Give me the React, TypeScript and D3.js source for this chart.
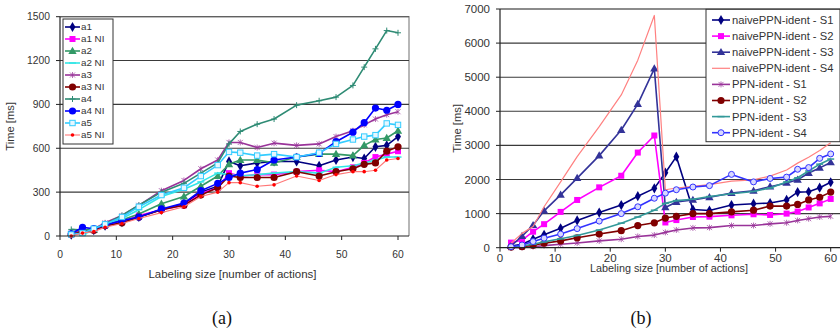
import * as d3 from "d3";

// x positions shared by every series (number of actions)
const SIZES = [2, 4, 6, 8, 11, 14, 18, 22, 25, 28, 30, 32, 35, 38, 42, 46, 49, 52, 54, 56, 58, 60];

// ---- panel (a) ----
const A1 = [10, 40, 40, 70, 95, 130, 180, 220, 300, 340, 510, 480, 500, 510, 510, 480, 520, 540, 530, 610, 620, 680];
const A1_NI = [10, 30, 40, 70, 95, 140, 180, 210, 290, 330, 430, 410, 420, 420, 440, 450, 440, 470, 500, 540, 560, 580];
const A2 = [20, 30, 40, 80, 110, 150, 220, 270, 340, 410, 490, 520, 520, 500, 540, 560, 560, 550, 620, 660, 670, 720];
const A2_NI = [30, 10, 40, 80, 120, 180, 270, 320, 370, 430, 420, 410, 420, 430, 440, 430, 470, 480, 500, 520, 540, 540];
const A3 = [20, 40, 50, 90, 140, 210, 310, 380, 460, 520, 640, 640, 605, 635, 620, 630, 680, 720, 760, 800, 830, 850];
const A3_NI = [10, 30, 40, 70, 90, 130, 180, 210, 280, 330, 410, 400, 400, 400, 440, 410, 440, 460, 490, 500, 580, 610];
const A4 = [45, 40, 50, 80, 140, 210, 300, 360, 430, 500, 630, 715, 765, 800, 895, 925, 950, 1030, 1155, 1280, 1405, 1390];
const A4_NI = [15, 60, 50, 75, 105, 130, 185, 225, 310, 360, 400, 430, 455, 520, 540, 565, 645, 710, 775, 875, 860, 900];
const A5 = [10, 20, 50, 80, 130, 200, 280, 330, 410, 485, 575, 570, 550, 560, 540, 570, 630, 660, 680, 690, 770, 760];
const A5_NI = [0, 20, 30, 60, 85, 120, 160, 200, 270, 300, 365, 365, 340, 350, 410, 380, 420, 440, 440, 450, 520, 530];

// ---- panel (b) ----
const NAIVE_S1 = [50, 100, 250, 380, 570, 800, 1030, 1250, 1510, 1740, 2200, 2670, 1120, 1090, 1250, 1290, 1310, 1400, 1630, 1640, 1760, 1920];
const NAIVE_S2 = [150, 220, 470, 690, 1050, 1400, 1770, 2110, 2790, 3290, 740, 810, 900, 910, 950, 980, 960, 1000, 1060, 1180, 1300, 1430];
const NAIVE_S3 = [50, 340, 660, 1080, 1550, 2040, 2700, 3450, 4210, 5250, 1180, 1340, 1400, 1480, 1600, 1670, 1790, 1900, 1990, 2190, 2340, 2500];
const NAIVE_S4 = [130, 420, 620, 1200, 1930, 2670, 3550, 4480, 5500, 6810, 1700, 1750, 1800, 1850, 1950, 1990, 2100, 2280, 2480, 2650, 2850, 3080];
const PPN_S1 = [0, 10, 30, 60, 100, 140, 200, 250, 330, 370, 450, 520, 580, 590, 650, 650, 700, 730, 800, 850, 900, 920];
const PPN_S2 = [20, 30, 70, 130, 200, 290, 400, 500, 650, 730, 870, 920, 1000, 1000, 1050, 1100, 1220, 1220, 1270, 1400, 1480, 1630];
const PPN_S3 = [20, 50, 100, 170, 260, 360, 520, 720, 900, 1100, 1300, 1380, 1420, 1500, 1580, 1650, 1750, 1930, 2050, 2250, 2450, 2600];
const PPN_S4 = [30, 80, 180, 280, 400, 560, 780, 1000, 1200, 1450, 1600, 1700, 1780, 1820, 2150, 1930, 2030, 2070, 2300, 2350, 2620, 2750];

const X_TICKS = [0, 10, 20, 30, 40, 50, 60];
const Y_TICKS_A = [0, 300, 600, 900, 1200, 1500];
const Y_TICKS_B = [0, 1000, 2000, 3000, 4000, 5000, 6000, 7000];

type Marker = "diamond" | "square" | "hsquare" | "triangle" | "circle" | "hcircle" | "star" | "plus" | "dash" | "dot" | "none";

interface Series {
  name: string;
  values: number[];
  color: string;
  marker: Marker;
  lw?: number;
  mcolor?: string;
}

const SERIES_A: Series[] = [
  { name: "a1", values: A1, color: "#000080", marker: "diamond" },
  { name: "a1 NI", values: A1_NI, color: "#ff00ff", marker: "square" },
  { name: "a2", values: A2, color: "#339966", marker: "triangle" },
  { name: "a2 NI", values: A2_NI, color: "#33e6e6", marker: "dash" },
  { name: "a3", values: A3, color: "#993399", marker: "star" },
  { name: "a3 NI", values: A3_NI, color: "#800000", marker: "circle" },
  { name: "a4", values: A4, color: "#2e8b74", marker: "plus" },
  { name: "a4 NI", values: A4_NI, color: "#0000ff", marker: "circle" },
  { name: "a5", values: A5, color: "#33ccff", marker: "hsquare" },
  { name: "a5 NI", values: A5_NI, color: "#ff7777", marker: "dot", lw: 1.1, mcolor: "#ff0000" },
];

const SERIES_B: Series[] = [
  { name: "naivePPN-ident - S1", values: NAIVE_S1, color: "#000080", marker: "diamond" },
  { name: "naivePPN-ident - S2", values: NAIVE_S2, color: "#ff00ff", marker: "square" },
  { name: "naivePPN-ident - S3", values: NAIVE_S3, color: "#333399", marker: "triangle" },
  { name: "naivePPN-ident - S4", values: NAIVE_S4, color: "#ff8080", marker: "none", lw: 1.2 },
  { name: "PPN-ident - S1", values: PPN_S1, color: "#993399", marker: "star" },
  { name: "PPN-ident - S2", values: PPN_S2, color: "#800000", marker: "circle" },
  { name: "PPN-ident - S3", values: PPN_S3, color: "#339999", marker: "dash" },
  { name: "PPN-ident - S4", values: PPN_S4, color: "#3333ff", marker: "hcircle" },
];

const FONT = "Liberation Sans, Arial, sans-serif";
const TEXT = "#333";

function MarkerShape({ x, y, marker, color }: { x: number; y: number; marker: Marker; color: string }) {
  switch (marker) {
    case "diamond":
      return <path transform={`translate(${x},${y})`} d={d3.symbol(d3.symbolDiamond, 30)() || ""} fill={color} />;
    case "triangle":
      return <path transform={`translate(${x},${y + 0.5})`} d={d3.symbol(d3.symbolTriangle, 30)() || ""} fill={color} />;
    case "square":
      return <rect x={x - 3} y={y - 3} width={6} height={6} fill={color} />;
    case "hsquare":
      return <rect x={x - 2.7} y={y - 2.7} width={5.4} height={5.4} fill="#e6f7ff" stroke={color} strokeWidth={1} />;
    case "circle":
      return <circle cx={x} cy={y} r={3.6} fill={color} />;
    case "hcircle":
      return <circle cx={x} cy={y} r={3} fill="#d8d8ff" stroke={color} strokeWidth={1} />;
    case "dot":
      return <circle cx={x} cy={y} r={1.8} fill={color} />;
    case "star":
      return (
        <path
          d={`M${x - 2.5},${y - 2.5}L${x + 2.5},${y + 2.5}M${x - 2.5},${y + 2.5}L${x + 2.5},${y - 2.5}M${x},${y - 3}L${x},${y + 3}`}
          stroke={color}
          strokeWidth={0.9}
          opacity={0.8}
        />
      );
    case "plus":
      return <path d={`M${x - 3},${y}L${x + 3},${y}M${x},${y - 3}L${x},${y + 3}`} stroke={color} strokeWidth={1} />;
    case "dash":
      return <path d={`M${x - 3.5},${y}L${x + 3.5},${y}`} stroke={color} strokeWidth={1.5} />;
    default:
      return null;
  }
}

interface PanelProps {
  series: Series[];
  yTicks: number[];
  left: number;
  x60: number;
  right: number;
  top: number;
  bottom: number;
  tickFont: number;
  tickLabelY: number;
  titleY: number;
  titleFont: number;
  yTitleX: number;
  legend: { x: number; y: number; w: number; h: number; firstY: number; step: number; lineX0: number; lineX1: number; textX: number; font: number };
}

function Panel(p: PanelProps) {
  const yMax = p.yTicks[p.yTicks.length - 1];
  const x = d3.scaleLinear().domain([0, 60]).range([p.left, p.x60]);
  const y = d3.scaleLinear().domain([0, yMax]).range([p.bottom, p.top]);
  const line = d3
    .line<number>()
    .x((_, i) => x(SIZES[i]))
    .y((v) => y(v));

  const lg = p.legend;
  return (
    <g>
      {/* plot frame top/right */}
      <path d={`M${p.left},${p.top}H${p.right}V${p.bottom}`} fill="none" stroke="#888" strokeWidth={1.2} />
      {/* gridlines */}
      {p.yTicks.slice(1, -1).map((t) => (
        <line key={t} x1={p.left} x2={p.right} y1={y(t)} y2={y(t)} stroke="#3a3a3a" strokeWidth={1.1} />
      ))}
      <line x1={p.left} x2={p.right} y1={p.top} y2={p.top} stroke="#555" strokeWidth={1.1} />

      {/* series */}
      {p.series.map((s) => (
        <g key={s.name}>
          <path d={line(s.values) || ""} fill="none" stroke={s.color} strokeWidth={s.lw ?? 1.6} strokeLinejoin="round" />
          {s.values.map((v, i) => (
            <MarkerShape key={i} x={x(SIZES[i])} y={y(v)} marker={s.marker} color={s.mcolor ?? s.color} />
          ))}
        </g>
      ))}

      {/* axes */}
      <line x1={p.left} x2={p.right} y1={p.bottom} y2={p.bottom} stroke="#222" strokeWidth={1.2} />
      <line x1={p.left} x2={p.left} y1={p.top} y2={p.bottom} stroke="#222" strokeWidth={1.2} />
      {X_TICKS.map((t) => (
        <g key={t}>
          <line x1={x(t)} x2={x(t)} y1={p.bottom} y2={p.bottom + 4} stroke="#222" strokeWidth={1} />
          <text x={x(t)} y={p.tickLabelY} textAnchor="middle" fontSize={p.tickFont} fontFamily={FONT} fill={TEXT}>
            {t}
          </text>
        </g>
      ))}
      {p.yTicks.map((t) => (
        <g key={t}>
          <line x1={p.left - 4} x2={p.left} y1={y(t)} y2={y(t)} stroke="#222" strokeWidth={1} />
          <text x={p.left - 10} y={y(t)} dy="0.35em" textAnchor="end" fontSize={p.tickFont} fontFamily={FONT} fill={TEXT}>
            {t}
          </text>
        </g>
      ))}
      <text x={(p.left + p.right) / 2 - 2} y={p.titleY} textAnchor="middle" fontSize={p.titleFont} fontFamily={FONT} fill={TEXT}>
        Labeling size [number of actions]
      </text>
      <text
        transform={`translate(${p.yTitleX},${(p.top + p.bottom) / 2}) rotate(-90)`}
        dy="0.35em"
        textAnchor="middle"
        fontSize={11.2}
        fontFamily={FONT}
        fill={TEXT}
      >
        Time [ms]
      </text>

      {/* legend */}
      <rect x={lg.x} y={lg.y} width={lg.w} height={lg.h} fill="#fff" stroke="#333" strokeWidth={1} />
      {p.series.map((s, i) => {
        const ly = lg.firstY + i * lg.step;
        const mx = (lg.lineX0 + lg.lineX1) / 2;
        return (
          <g key={s.name}>
            <line x1={lg.lineX0} x2={lg.lineX1} y1={ly} y2={ly} stroke={s.color} strokeWidth={s.lw ?? 1.6} />
            <MarkerShape x={mx} y={ly} marker={s.marker} color={s.mcolor ?? s.color} />
            <text x={lg.textX} y={ly} dy="0.35em" fontSize={lg.font} fontFamily={FONT} fill={TEXT}>
              {s.name}
            </text>
          </g>
        );
      })}
    </g>
  );
}

export default function App() {
  return (
    <svg
      width={840}
      height={331}
      style={{ position: "absolute", left: 0, top: 0, background: "#fff" }}
    >
      <Panel
        series={SERIES_A}
        yTicks={Y_TICKS_A}
        left={60}
        x60={398}
        right={409}
        top={16.7}
        bottom={236}
        tickFont={10.3}
        tickLabelY={258}
        titleY={278}
        titleFont={11.5}
        yTitleX={10}
        legend={{ x: 63, y: 19, w: 50, h: 125, firstY: 27, step: 12, lineX0: 65, lineX1: 80, textX: 81, font: 9.8 }}
      />
      <Panel
        series={SERIES_B}
        yTicks={Y_TICKS_B}
        left={500}
        x60={830.7}
        right={842}
        top={9}
        bottom={247.7}
        tickFont={11.5}
        tickLabelY={261.5}
        titleY={272}
        titleFont={10.8}
        yTitleX={457}
        legend={{ x: 706, y: 9.3, w: 134, h: 132.4, firstY: 20, step: 16.1, lineX0: 712, lineX1: 730, textX: 732, font: 11.2 }}
      />
      <text x={222} y={324} textAnchor="middle" fontSize={18} fontFamily="Liberation Serif, Times New Roman, serif" fill="#111">
        (a)
      </text>
      <text x={641} y={324} textAnchor="middle" fontSize={18} fontFamily="Liberation Serif, Times New Roman, serif" fill="#111">
        (b)
      </text>
    </svg>
  );
}
